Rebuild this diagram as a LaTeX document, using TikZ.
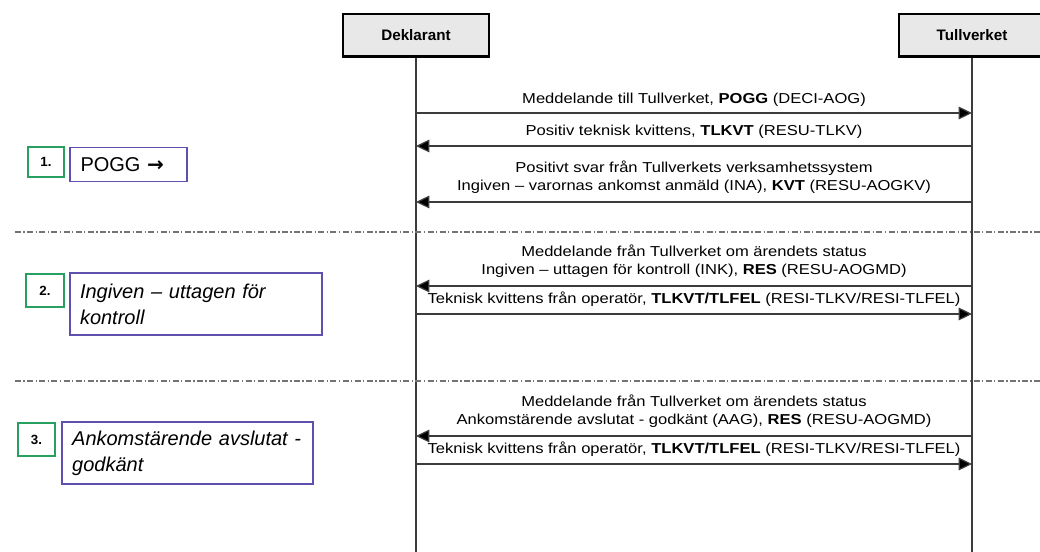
\documentclass[tikz,border=0pt]{standalone}
\usepackage{fontspec}
\setmainfont{Liberation Sans}
\newfontfamily\lblfont{Liberation Sans}[FakeStretch=1.15]
\newfontfamily\arrowfont{DejaVu Sans}
\usetikzlibrary{arrows.meta}

\definecolor{numgreen}{RGB}{40,160,95}
\definecolor{phasepurple}{RGB}{95,80,175}
\definecolor{linegray}{RGB}{60,60,60}

\begin{document}
\begin{tikzpicture}[x=0.75pt, y=-0.75pt,
  actor/.style={draw=black, line width=2pt, fill=gray!18, minimum width=109.5pt, minimum height=32pt, font=\bfseries\fontsize{11.4}{13}\selectfont},
  life/.style={draw=linegray, line width=0.9pt},
  msg/.style={draw=linegray, line width=0.9pt, -{Triangle[length=10pt,width=9.5pt,fill=black]}},
  lbl/.style={font=\lblfont\fontsize{10.8}{13.5}\selectfont, align=center, inner sep=0pt},
  num/.style={draw=numgreen, line width=1.5pt, font=\bfseries\fontsize{10}{12}\selectfont},
  phase/.style={draw=phasepurple, line width=0.8pt, align=left, inner xsep=7pt, font=\fontsize{15}{19.5}\selectfont},
  sep/.style={draw=gray!90!black, line width=0.8pt, dash pattern=on 4.5pt off 1.8pt on 1pt off 1.8pt}]
\useasboundingbox (0,0) rectangle (1040,552);

\node[actor] (dekl) at (416,35.5) {Deklarant};
\node[actor] (tull) at (972,35.5) {Tullverket};
\coordinate (bottom) at (0,552);
\draw[life] (dekl.south) -- (dekl.south |- bottom);
\draw[life] (tull.south) -- (tull.south |- bottom);

\coordinate (m1) at (0,113);
\coordinate (m2) at (0,146);
\coordinate (m3) at (0,202);
\coordinate (m4) at (0,286);
\coordinate (m5) at (0,314);
\coordinate (m6) at (0,436);
\coordinate (m7) at (0,464);

\node[lbl] (l1) at (694,100) {Meddelande till Tullverket, \textbf{POGG} (DECI-AOG)};
\draw[msg] (dekl |- m1) -- (tull |- m1);
\node[lbl] (l2) at (694,132) {Positiv teknisk kvittens, \textbf{TLKVT} (RESU-TLKV)};
\draw[msg] (tull |- m2) -- (dekl |- m2);
\node[lbl] (l3) at (694,177) {Positivt svar från Tullverkets verksamhetssystem\\Ingiven – varornas ankomst anmäld (INA), \textbf{KVT} (RESU-AOGKV)};
\draw[msg] (tull |- m3) -- (dekl |- m3);

\coordinate (s1a) at (15,232);
\coordinate (s1b) at (1040,232);
\draw[sep] (s1a) -- (s1b);

\node[lbl] (l4) at (694,261) {Meddelande från Tullverket om ärendets status\\Ingiven – uttagen för kontroll (INK), \textbf{RES} (RESU-AOGMD)};
\draw[msg] (tull |- m4) -- (dekl |- m4);
\node[lbl] (l5) at (694,299) {Teknisk kvittens från operatör, \textbf{TLKVT/TLFEL} (RESI-TLKV/RESI-TLFEL)};
\draw[msg] (dekl |- m5) -- (tull |- m5);

\coordinate (s2a) at (15,381);
\coordinate (s2b) at (1040,381);
\draw[sep] (s2a) -- (s2b);

\node[lbl] (l6) at (694,411) {Meddelande från Tullverket om ärendets status\\Ankomstärende avslutat - godkänt (AAG), \textbf{RES} (RESU-AOGMD)};
\draw[msg] (tull |- m6) -- (dekl |- m6);
\node[lbl] (l7) at (694,449) {Teknisk kvittens från operatör, \textbf{TLKVT/TLFEL} (RESI-TLKV/RESI-TLFEL)};
\draw[msg] (dekl |- m7) -- (tull |- m7);

\node[num, minimum width=27pt, minimum height=22pt] (n1) at (46,162) {1.};
\node[phase, minimum width=87.75pt, minimum height=26pt, text width=72pt] (p1) at (128.5,164.5) {POGG {\arrowfont\bfseries →}};
\node[num, minimum width=28.5pt, minimum height=24.75pt] (n2) at (45,290.5) {2.};
\node[phase, minimum width=189pt, minimum height=46.5pt, text width=174pt] (p2) at (196,304) {\itshape Ingiven – uttagen för\\\itshape kontroll};
\node[num, minimum width=27.75pt, minimum height=24.75pt] (n3) at (36.5,439.5) {3.};
\node[phase, minimum width=188.25pt, minimum height=46.5pt, text width=173pt] (p3) at (187.5,453) {\itshape Ankomstärende avslutat -\\\itshape godkänt};
\end{tikzpicture}
\end{document}
